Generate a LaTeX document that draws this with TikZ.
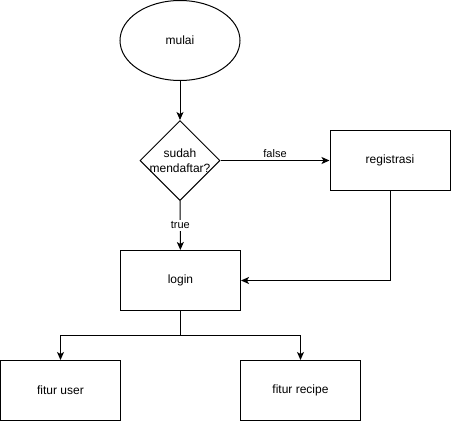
\documentclass[tikz,border=0pt]{standalone}
\usepackage{fontspec}
\setmainfont{Liberation Sans}
\usetikzlibrary{shapes.geometric,arrows.meta}

\tikzset{
	kasten/.style={draw, rectangle, minimum width=120pt, minimum height=60pt, inner sep=0pt},
	pfeil/.style={-{Stealth[length=8pt,width=7pt,inset=2pt]}},
	beschr/.style={font=\fontsize{11}{13}\selectfont, inner sep=2pt},
}

\begin{document}
\begin{tikzpicture}[x=1pt,y=-1pt,line width=1pt,font=\fontsize{12}{15}\selectfont]
	\useasboundingbox (0,0) rectangle (451,421);
	\node[draw, ellipse, minimum width=120pt, minimum height=80pt, inner sep=0pt] (mulai) at (180,40.5){mulai};
	\node[draw, diamond, minimum width=80pt, minimum height=80pt, inner sep=0pt,
		label={[align=center]center:sudah\\mendaftar?}] (cek) at (180,160.5){};
	\node[kasten] (reg) at (390,160.5){registrasi};
	\node[kasten] (login) at (180.5,280.5){login};
	\node[kasten] (user) at (60.5,390.5){fitur user};
	\node[kasten] (recipe) at (300.5,390.5){fitur recipe};
	\coordinate (teil) at (180.5,335);
	\draw[pfeil] (mulai) -- (cek);
	\draw[pfeil] (cek) -- node[beschr, above]{false} (reg);
	\draw[pfeil] (cek) -- node[beschr, fill=white]{true} (login);
	\draw[pfeil] (reg) |- (login);
	\draw (login) -- (teil);
	\draw[pfeil] (teil) -| (user);
	\draw[pfeil] (teil) -| (recipe);
\end{tikzpicture}
\end{document}
